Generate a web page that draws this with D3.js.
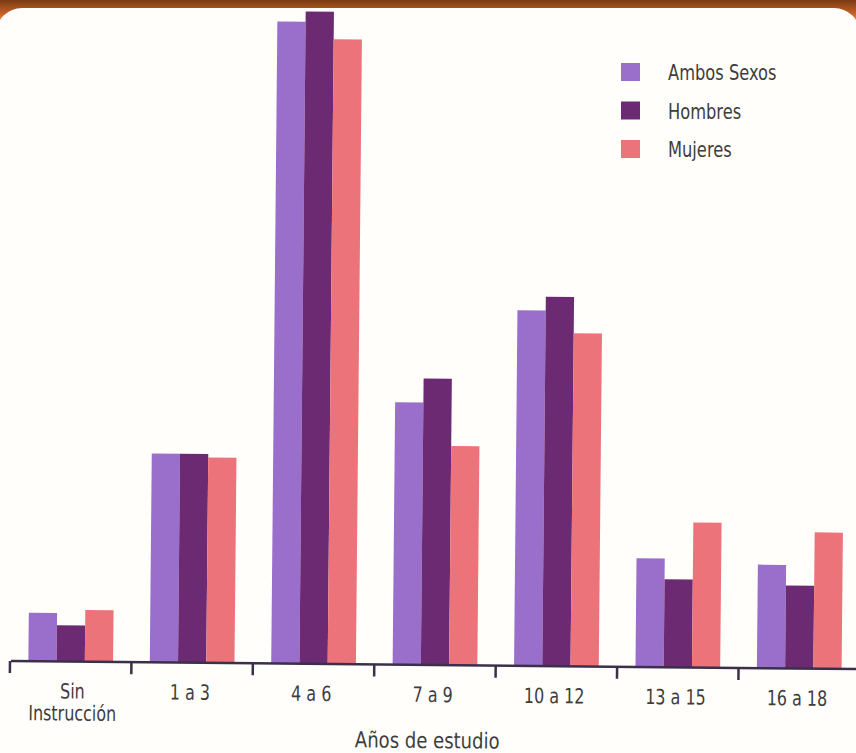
<!DOCTYPE html>
<html>
<head>
<meta charset="utf-8">
<script src="https://cdn.jsdelivr.net/npm/d3@7"></script>
<style>
  html, body { margin: 0; padding: 0; background: #fff; }
  svg { display: block; }
  text { font-family: "DejaVu Sans", "Roboto", sans-serif; fill: #3d3d3d; }
</style>
</head>
<body>
<script>
// ---- data (percent of population by years of schooling) ----
const categories = ["Sin Instrucción", "1 a 3", "4 a 6", "7 a 9", "10 a 12", "13 a 15", "16 a 18"];
const seriesNames = ["Ambos Sexos", "Hombres", "Mujeres"];
const ambosSexos = [2.8, 12.1, 37.2, 15.2, 20.6, 6.3, 6.0];
const hombres    = [2.1, 12.1, 37.8, 16.6, 21.4, 5.1, 4.8];
const mujeres    = [3.0, 11.9, 36.2, 12.7, 19.3, 8.4, 7.9];
const colors     = ["#9a6ecb", "#6c2a72", "#ec737a"];
const axisTitle  = "Años de estudio";

const seriesValues = [ambosSexos, hombres, mujeres];
const rows = categories.map((c, i) => ({ cat: c, vals: seriesNames.map((s, j) => ({ key: s, value: seriesValues[j][i] })) }));

const W = 856, H = 753;
const svg = d3.select("body").append("svg").attr("width", W).attr("height", H);

// condensed text helper
function ctext(parent, x, y, str, size, sx, anchor) {
  const g = parent.append("g").attr("transform", `translate(${x},${y}) scale(${sx},1)`);
  g.append("text").attr("x", 0).attr("y", 0).attr("font-size", size)
    .attr("text-anchor", anchor || "start").text(str);
  return g;
}

// ---- frame (scanned page border) ----
const defs = svg.append("defs");
const g1 = defs.append("linearGradient").attr("id", "topband").attr("x1", 0).attr("y1", 0).attr("x2", 0).attr("y2", 1);
g1.append("stop").attr("offset", "0%").attr("stop-color", "#7a3a12");
g1.append("stop").attr("offset", "40%").attr("stop-color", "#c8642a");
g1.append("stop").attr("offset", "70%").attr("stop-color", "#f2b25a");
g1.append("stop").attr("offset", "100%").attr("stop-color", "#fff6e0");
svg.append("rect").attr("x", 0).attr("y", 0).attr("width", W).attr("height", 36).attr("fill", "url(#topband)");
svg.append("rect").attr("x", -4).attr("y", 8).attr("width", W + 8).attr("height", H + 20)
  .attr("rx", 26).attr("fill", "#fffefb");

// ---- scales ----
const baseY = 661;
const x0 = d3.scaleBand().domain(categories).range([10, 860]).paddingInner(0).paddingOuter(0);
const x1 = d3.scaleBand().domain(seriesNames).range([0, x0.bandwidth()]).paddingInner(0).paddingOuter(0.65);
const y = d3.scaleLinear().domain([0, 38.3]).range([baseY, 0]);

// chart is slightly rotated (scan)
const chart = svg.append("g").attr("transform", `rotate(0.55, 12, ${baseY})`);

chart.append("g").selectAll("g").data(rows).join("g")
  .attr("transform", d => `translate(${x0(d.cat)},0)`)
  .selectAll("rect").data(d => d.vals).join("rect")
  .attr("x", d => x1(d.key))
  .attr("width", x1.bandwidth())
  .attr("y", d => y(d.value))
  .attr("height", d => baseY - y(d.value))
  .attr("fill", (d, i) => colors[i]);

// ---- x axis ----
const axis = chart.append("g").attr("transform", `translate(0,${baseY})`);
axis.append("line").attr("x1", 11).attr("x2", 866).attr("y1", 0).attr("y2", 0)
  .attr("stroke", "#3b2f4a").attr("stroke-width", 2.5);
const tickPos = categories.map(c => x0(c)).concat([x0(categories[categories.length - 1]) + x0.bandwidth()]);
axis.selectAll("line.tick").data(tickPos).join("line").attr("class", "tick")
  .attr("x1", d => d).attr("x2", d => d).attr("y1", 0).attr("y2", 12)
  .attr("stroke", "#3b2f4a").attr("stroke-width", 2.5);

categories.forEach(d => {
  const cx = x0(d) + x0.bandwidth() / 2;
  if (d === "Sin Instrucción") {
    ctext(axis, cx + 2, 37, "Sin", 21, 0.76, "middle");
    ctext(axis, cx + 2, 59, "Instrucción", 21, 0.76, "middle");
  } else {
    ctext(axis, cx - 2, 37, d, 21, 0.76, "middle");
  }
});

ctext(axis, 428, 83, axisTitle, 22, 0.82, "middle");

// ---- legend ----
const legend = svg.append("g").attr("transform", "translate(621,63)");
seriesNames.forEach((s, i) => {
  const gy = i * 38.5;
  legend.append("rect").attr("x", 0).attr("y", gy).attr("width", 19).attr("height", 18).attr("fill", colors[i]);
  ctext(legend, 47, gy + 17, s, 22, 0.74, "start");
});
</script>
</body>
</html>
